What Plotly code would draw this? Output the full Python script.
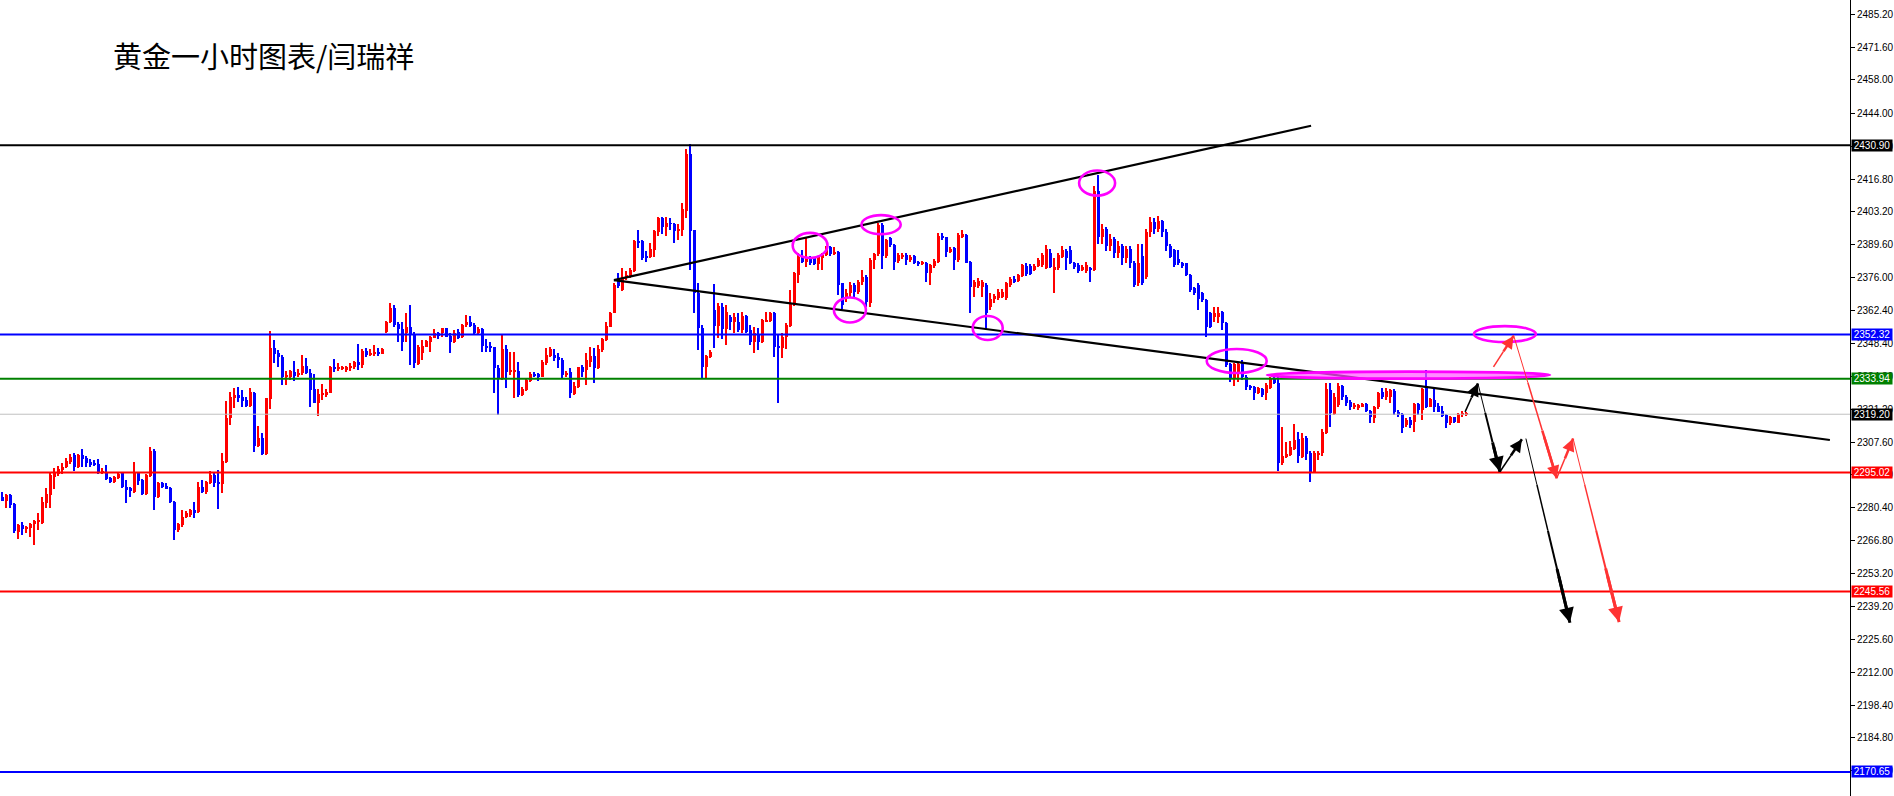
import plotly.graph_objects as go

# ---------------- data (hourly gold candles) ----------------
opens = [
2284.7,2283.3,2285.6,2281.9,2270.4,2273.2,2271.7,2271.8,2273.5,2274.6,
2274.2,2282.5,2285.6,2293.3,2294.4,2296.0,2297.1,2299.5,2302.3,2297.1,
2302.3,2300.9,2299.2,2299.0,2298.4,2294.9,2294.9,2292.6,2290.9,2292.6,
2294.6,2289.1,2288.4,2286.8,2294.6,2291.9,2286.1,2293.7,2303.9,2284.7,
2290.8,2289.4,2288.7,2282.9,2271.1,2273.2,2276.4,2277.4,2279.4,2278.7,
2289.1,2287.0,2290.5,2293.9,2291.2,2290.2,2299.5,2317.5,2325.8,2327.2,
2326.5,2325.1,2322.6,2328.2,2306.0,2309.5,2302.7,2325.5,2346.6,2344.8,
2342.8,2334.8,2334.8,2336.7,2335.9,2336.2,2339.2,2336.5,2329.5,2324.0,
2327.2,2327.2,2328.2,2338.9,2338.3,2338.0,2337.6,2338.3,2338.9,2341.0,
2339.6,2345.6,2343.8,2344.1,2345.2,2344.2,2353.5,2357.4,2363.2,2356.7,
2354.5,2352.8,2355.6,2352.5,2340.0,2344.8,2347.3,2349.3,2351.0,2352.8,
2352.8,2354.9,2351.7,2349.3,2353.5,2351.1,2356.3,2357.6,2356.3,2352.8,
2354.5,2347.7,2347.5,2347.0,2338.3,2334.1,2346.1,2336.9,2336.9,2337.3,
2327.2,2329.3,2333.1,2335.9,2335.9,2334.8,2340.3,2343.4,2343.8,2343.1,
2341.7,2335.5,2336.9,2327.6,2330.6,2339.0,2337.6,2341.0,2343.4,2338.3,
2345.9,2350.0,2355.6,2361.4,2374.9,2370.8,2375.6,2376.3,2378.8,2391.3,
2391.3,2384.6,2384.4,2387.4,2395.0,2400.6,2396.8,2398.5,2398.2,2395.4,
2395.7,2403.7,2427.3,2395.7,2369.4,2354.9,2338.7,2343.1,2362.5,2355.8,
2363.9,2354.6,2359.7,2357.6,2357.6,2354.2,2360.0,2354.2,2349.3,2352.1,
2349.3,2357.9,2358.1,2361.4,2347.5,2346.6,2351.1,2355.8,2364.6,2377.0,
2384.6,2382.6,2384.5,2383.9,2381.6,2384.0,2385.5,2388.5,2385.7,2386.7,
2373.5,2367.3,2369.4,2372.8,2370.1,2374.2,2376.3,2365.2,2383.2,2385.7,
2397.8,2384.9,2392.2,2389.4,2382.9,2384.6,2385.3,2383.2,2384.9,2382.5,
2381.8,2382.1,2377.7,2380.8,2382.5,2393.2,2392.8,2386.7,2388.1,2383.2,
2393.2,2393.6,2382.5,2372.1,2372.5,2372.1,2372.8,2363.9,2366.9,2367.4,
2368.0,2367.4,2372.9,2375.3,2374.7,2376.6,2380.8,2380.8,2379.1,2380.8,
2381.0,2379.8,2386.0,2379.1,2379.8,2384.6,2387.0,2387.4,2381.9,2381.2,
2379.1,2378.8,2379.8,2379.1,2412.0,2393.0,2396.0,2389.0,2392.0,2386.0,
2389.0,2384.0,2388.0,2382.0,2373.5,2385.0,2376.0,2395.0,2399.0,2396.0,
2399.5,2395.0,2389.0,2387.4,2383.5,2381.9,2381.9,2377.0,2371.5,2372.9,
2369.4,2366.6,2361.1,2359.7,2359.7,2361.8,2357.2,2339.9,2334.1,2336.2,
2339.9,2334.8,2330.9,2330.6,2327.9,2329.5,2327.9,2330.2,2334.1,2332.3,
2298.8,2301.3,2302.3,2304.7,2308.8,2301.6,2309.2,2303.3,2295.3,2302.3,
2303.0,2311.5,2329.3,2319.5,2323.0,2330.9,2326.5,2324.4,2322.1,2321.7,
2322.3,2323.4,2320.7,2317.5,2322.1,2328.6,2326.5,2326.5,2329.0,2320.3,
2319.3,2314.9,2316.8,2316.1,2323.4,2321.0,2330.6,2322.3,2325.1,2322.6,
2320.5,2318.9,2315.4,2317.9,2315.7,2318.9,2318.9]

highs = [
2286.8,2286.0,2286.0,2282.2,2273.5,2274.3,2272.9,2274.2,2275.2,2278.0,
2284.7,2288.4,2295.4,2296.7,2297.8,2298.8,2300.9,2302.7,2303.0,2302.5,
2304.8,2301.9,2300.5,2300.2,2300.5,2296.7,2298.0,2293.0,2293.7,2295.0,
2294.9,2291.9,2288.8,2299.2,2295.4,2292.3,2294.4,2305.7,2304.6,2291.2,
2291.2,2290.5,2289.1,2283.2,2274.2,2279.4,2279.2,2279.7,2282.9,2291.2,
2291.9,2291.5,2295.8,2294.6,2296.0,2303.3,2324.8,2328.6,2330.0,2330.4,
2329.2,2326.5,2330.0,2328.6,2314.3,2311.5,2326.1,2353.8,2350.0,2345.9,
2343.8,2337.3,2337.6,2341.4,2338.0,2343.8,2342.4,2337.9,2335.9,2329.5,
2331.8,2329.5,2339.2,2342.0,2340.3,2339.4,2339.2,2340.6,2341.3,2348.4,
2346.2,2346.6,2346.2,2348.0,2346.9,2346.6,2358.1,2365.3,2364.6,2357.6,
2357.6,2361.1,2364.6,2353.5,2348.0,2350.0,2350.0,2351.7,2354.5,2353.5,
2355.2,2355.2,2352.8,2354.2,2354.5,2356.7,2360.4,2360.0,2357.0,2355.6,
2354.9,2350.3,2349.3,2347.3,2339.6,2352.1,2347.9,2345.2,2345.2,2341.0,
2330.6,2334.1,2336.9,2336.9,2336.5,2341.7,2346.6,2347.0,2346.1,2344.5,
2342.4,2337.3,2338.3,2332.7,2339.0,2339.6,2344.5,2347.3,2346.6,2347.9,
2350.7,2357.6,2361.8,2373.6,2377.7,2379.8,2378.8,2379.8,2391.6,2395.7,
2391.6,2387.1,2390.2,2395.7,2401.2,2401.2,2401.0,2400.6,2398.5,2398.2,
2406.8,2429.2,2431.3,2395.9,2373.6,2356.3,2344.0,2346.0,2373.1,2365.3,
2365.3,2364.6,2360.4,2361.1,2361.1,2361.8,2360.4,2356.3,2355.6,2354.9,
2358.6,2361.8,2361.8,2361.8,2352.1,2352.8,2357.0,2370.8,2378.4,2386.0,
2387.4,2392.2,2384.9,2384.2,2385.0,2386.0,2389.0,2389.0,2388.5,2387.0,
2373.8,2371.0,2374.0,2373.5,2375.0,2379.0,2377.0,2384.0,2386.0,2398.5,
2398.5,2392.0,2393.0,2390.0,2386.0,2386.0,2386.0,2385.5,2385.5,2383.0,
2383.0,2382.5,2381.5,2383.5,2394.5,2394.3,2393.0,2388.5,2388.5,2394.5,
2395.7,2394.0,2383.0,2375.0,2375.6,2375.0,2373.5,2369.4,2369.0,2371.3,
2371.0,2374.0,2376.0,2376.5,2377.5,2381.6,2382.0,2381.5,2381.5,2384.0,
2386.0,2389.5,2388.0,2384.0,2386.0,2389.0,2388.0,2389.0,2382.5,2382.0,
2381.2,2382.5,2380.5,2414.0,2418.5,2398.0,2397.0,2394.0,2393.0,2391.0,
2390.0,2389.0,2389.0,2383.0,2390.0,2390.0,2396.0,2401.0,2400.5,2401.5,
2400.0,2396.0,2390.0,2388.0,2387.5,2382.5,2382.2,2377.5,2372.0,2373.6,
2370.0,2367.0,2361.5,2363.9,2363.6,2362.2,2357.6,2340.3,2340.5,2341.0,
2341.7,2335.5,2331.5,2331.0,2330.6,2330.0,2332.0,2334.8,2334.8,2334.8,
2314.0,2307.8,2308.0,2315.1,2312.0,2311.5,2310.0,2304.0,2304.0,2304.0,
2313.0,2332.0,2332.0,2328.0,2332.0,2331.5,2327.0,2325.0,2323.7,2323.5,
2324.0,2324.0,2321.0,2322.5,2328.5,2330.0,2330.0,2329.8,2329.5,2321.0,
2319.8,2317.5,2318.0,2324.0,2324.0,2330.0,2337.6,2326.0,2329.5,2324.0,
2322.6,2319.2,2318.5,2318.2,2319.6,2320.5,2320.2]

lows = [
2283.0,2280.4,2280.4,2270.0,2267.2,2269.0,2269.7,2268.4,2264.9,2271.1,
2273.6,2280.1,2280.1,2288.0,2293.7,2294.4,2296.7,2298.5,2295.6,2296.7,
2297.4,2297.4,2297.4,2297.8,2294.4,2294.4,2291.9,2290.8,2290.5,2292.3,
2288.4,2282.5,2284.7,2286.4,2289.8,2285.8,2285.6,2293.3,2279.4,2284.3,
2288.4,2288.0,2282.2,2267.0,2270.4,2272.5,2276.0,2276.7,2276.0,2278.3,
2286.4,2285.9,2290.2,2289.1,2279.7,2286.4,2298.8,2314.7,2321.6,2324.4,
2322.3,2322.3,2322.3,2303.6,2305.7,2302.3,2302.3,2321.4,2340.3,2338.9,
2331.3,2331.3,2333.4,2333.0,2334.5,2335.5,2335.9,2322.3,2323.7,2318.6,
2325.1,2326.5,2327.9,2336.9,2337.3,2337.6,2336.6,2337.3,2338.0,2337.6,
2338.3,2343.1,2343.5,2343.5,2343.4,2344.1,2352.8,2356.9,2355.6,2349.3,
2345.6,2349.3,2339.6,2338.3,2339.6,2341.7,2347.0,2345.2,2350.7,2350.3,
2351.4,2351.1,2344.5,2348.9,2350.4,2350.7,2355.6,2355.6,2352.5,2352.5,
2344.9,2345.2,2345.2,2327.9,2318.9,2333.4,2329.9,2335.5,2325.8,2326.5,
2326.9,2329.0,2332.7,2334.5,2333.1,2334.5,2339.6,2342.8,2341.4,2338.3,
2333.7,2334.8,2325.8,2327.2,2330.3,2334.8,2331.3,2338.7,2332.0,2338.0,
2345.2,2349.7,2355.3,2361.1,2371.5,2370.5,2374.9,2375.6,2378.4,2388.1,
2383.3,2382.6,2383.9,2384.6,2393.2,2394.1,2393.4,2395.7,2390.5,2391.6,
2393.2,2400.6,2379.1,2361.1,2345.9,2334.1,2333.7,2342.5,2346.6,2350.7,
2350.3,2347.9,2354.2,2352.8,2353.5,2352.8,2352.8,2347.9,2344.5,2345.9,
2348.6,2357.6,2357.6,2343.1,2323.7,2342.4,2346.1,2355.6,2364.2,2373.8,
2381.9,2380.4,2381.0,2381.0,2379.1,2379.1,2385.0,2385.0,2385.3,2368.7,
2363.1,2366.0,2368.0,2368.0,2369.0,2373.0,2363.8,2363.8,2379.4,2385.0,
2379.4,2383.9,2388.5,2379.1,2382.0,2383.5,2381.1,2382.5,2381.5,2380.7,
2381.0,2374.2,2372.8,2380.0,2382.0,2391.5,2384.6,2386.0,2379.1,2382.5,
2392.5,2381.8,2361.1,2368.0,2371.5,2368.0,2354.6,2362.5,2365.5,2366.6,
2367.5,2366.6,2372.0,2373.5,2374.0,2376.0,2376.8,2377.0,2378.5,2380.3,
2380.5,2379.5,2379.8,2369.4,2379.0,2384.0,2379.1,2381.5,2379.5,2378.0,
2378.5,2378.0,2374.0,2378.5,2390.0,2390.0,2387.0,2387.0,2384.0,2384.0,
2381.0,2382.0,2380.0,2372.0,2372.5,2372.8,2375.5,2393.0,2394.0,2395.0,
2393.0,2387.0,2384.0,2380.5,2381.0,2380.0,2376.6,2370.0,2368.7,2362.5,
2365.8,2351.4,2355.0,2357.6,2357.0,2354.2,2339.0,2332.7,2330.9,2332.7,
2333.5,2329.3,2329.3,2325.1,2327.5,2326.5,2325.1,2329.8,2331.8,2295.8,
2298.1,2300.9,2302.0,2304.3,2298.8,2301.0,2300.0,2291.2,2295.0,2300.0,
2302.0,2311.0,2314.0,2319.0,2322.0,2325.0,2322.5,2321.0,2321.5,2321.0,
2322.0,2320.0,2315.7,2315.7,2321.5,2325.5,2325.0,2324.0,2319.0,2318.0,
2311.5,2314.0,2313.5,2312.0,2319.0,2316.8,2321.6,2322.0,2320.3,2320.0,
2318.2,2313.3,2314.6,2315.5,2315.4,2318.2,2318.6]

closes = [
2283.3,2285.6,2281.5,2270.8,2273.1,2271.4,2272.2,2273.6,2274.9,2275.0,
2282.9,2286.1,2293.9,2295.4,2296.5,2297.1,2299.8,2301.6,2297.1,2302.3,
2300.6,2298.8,2298.5,2298.4,2294.9,2295.4,2292.3,2291.2,2293.3,2294.4,
2288.8,2287.7,2287.5,2295.2,2291.6,2286.1,2293.9,2303.9,2284.7,2290.8,
2289.1,2288.3,2282.9,2271.1,2273.6,2276.7,2278.0,2279.4,2278.0,2289.1,
2287.0,2291.2,2293.9,2290.5,2290.2,2299.8,2317.5,2326.2,2327.2,2325.8,
2324.8,2322.6,2328.6,2306.0,2309.5,2302.5,2325.8,2346.6,2344.2,2342.8,
2334.8,2335.5,2337.2,2335.1,2336.5,2339.2,2336.2,2329.2,2324.0,2327.5,
2327.9,2328.4,2338.9,2338.0,2338.9,2338.9,2338.9,2339.2,2341.0,2339.6,
2345.6,2343.8,2344.5,2345.2,2344.1,2346.2,2357.4,2363.2,2356.3,2354.5,
2349.3,2355.6,2352.0,2340.3,2347.3,2347.5,2349.6,2351.4,2352.8,2351.7,
2354.9,2351.4,2349.3,2352.8,2351.0,2356.3,2357.6,2355.8,2352.8,2354.5,
2347.7,2347.0,2346.6,2338.3,2334.1,2346.3,2336.9,2337.3,2337.6,2327.2,
2329.5,2333.4,2335.9,2335.1,2334.8,2341.0,2343.8,2346.1,2342.4,2341.7,
2335.5,2336.5,2327.9,2330.9,2338.7,2336.9,2341.7,2343.4,2338.3,2346.1,
2350.3,2355.8,2361.4,2372.9,2372.4,2375.6,2377.0,2379.1,2391.3,2390.2,
2383.9,2384.4,2387.8,2395.3,2400.6,2396.8,2398.5,2398.2,2395.4,2396.1,
2404.4,2427.3,2395.4,2369.4,2354.9,2338.7,2343.4,2345.2,2355.8,2364.2,
2354.6,2361.8,2357.6,2359.7,2354.2,2360.0,2353.5,2349.3,2352.8,2349.3,
2358.3,2358.3,2361.4,2347.3,2346.6,2351.1,2356.3,2365.3,2377.7,2384.6,
2382.6,2384.5,2382.0,2381.6,2384.6,2385.5,2388.1,2385.7,2386.7,2372.8,
2364.5,2369.4,2372.8,2370.1,2374.2,2376.3,2366.0,2383.2,2385.7,2397.8,
2384.9,2391.5,2389.4,2382.5,2385.3,2385.3,2383.2,2384.6,2382.1,2381.8,
2382.5,2377.7,2381.1,2382.8,2393.2,2392.2,2386.7,2387.7,2383.2,2393.6,
2393.9,2382.1,2372.1,2374.2,2374.6,2374.2,2361.1,2366.9,2368.3,2370.1,
2370.1,2373.6,2375.3,2374.0,2377.0,2381.2,2377.4,2377.4,2380.8,2383.2,
2385.3,2387.8,2380.5,2380.5,2385.3,2387.4,2383.9,2382.0,2380.2,2378.8,
2380.5,2381.2,2379.3,2412.0,2393.0,2396.0,2389.0,2392.0,2386.0,2389.0,
2384.0,2388.0,2382.0,2373.0,2381.9,2373.6,2395.0,2399.0,2396.0,2399.5,
2395.0,2389.0,2384.6,2381.2,2381.9,2380.8,2377.0,2370.8,2369.4,2366.9,
2366.6,2355.6,2355.6,2361.1,2361.1,2357.0,2339.6,2334.1,2339.9,2339.9,
2334.8,2330.6,2329.9,2327.9,2330.2,2327.2,2331.3,2334.1,2332.3,2298.8,
2301.9,2302.7,2305.7,2308.5,2301.9,2309.2,2302.7,2295.3,2303.3,2303.3,
2312.0,2329.5,2319.8,2326.5,2330.9,2326.5,2323.7,2322.1,2323.0,2323.0,
2323.3,2320.7,2318.2,2322.1,2327.9,2326.5,2329.0,2329.3,2320.3,2318.9,
2313.3,2316.8,2314.9,2323.4,2321.0,2329.5,2322.3,2325.4,2322.3,2320.3,
2318.5,2315.4,2318.2,2316.1,2319.3,2319.6,2319.2]

# horizontal levels: (price, colour, width, label background)
levels = [2430.90, 2352.32, 2333.94, 2319.20, 2295.02, 2245.56, 2170.65]
level_colors = ["#000000", "#0000FF", "#008000", "#C0C0C0", "#FF0000", "#FF0000", "#0000FF"]
level_widths = [2, 2, 2, 1, 2, 2, 2]
label_bg = ["#000000", "#0000FF", "#008000", "#000000", "#FF0000", "#FF0000", "#0000FF"]

tick_values = [2485.20, 2471.60, 2458.00, 2444.00, 2430.40, 2416.80, 2403.20, 2389.60,
               2376.00, 2362.40, 2348.40, 2334.80, 2321.20, 2307.60, 2294.00, 2280.40,
               2266.80, 2253.20, 2239.20, 2225.60, 2212.00, 2198.40, 2184.80, 2171.20]

title_text = "黄金一小时图表/闫瑞祥"

# ---------------- figure ----------------
n = len(closes)
xs = list(range(n))
UP, DOWN = "#FF0000", "#0000FF"
col = [UP if c >= o else DOWN for o, c in zip(opens, closes)]

fig = go.Figure()
# wicks
fig.add_trace(go.Bar(x=xs, y=[h - l for h, l in zip(highs, lows)], base=lows,
                     width=0.27, marker=dict(color=col, line=dict(width=0)),
                     hoverinfo="skip"))
# bodies
fig.add_trace(go.Bar(x=xs, y=[max(abs(c - o), 0.4) for o, c in zip(opens, closes)],
                     base=[min(o, c) for o, c in zip(opens, closes)],
                     width=0.78, marker=dict(color=col, line=dict(width=0)),
                     hoverinfo="skip"))

shapes = []
for p, c, w in zip(levels, level_colors, level_widths):
    shapes.append(dict(type="line", xref="paper", yref="y", x0=0, x1=1, y0=p, y1=p,
                       line=dict(color=c, width=w), layer="above"))

# trend lines (x in candle index, y in price)
shapes.append(dict(type="line", xref="x", yref="y", x0=152.9, y0=2374.9, x1=327.2, y1=2439.0,
                   line=dict(color="black", width=2.2)))
shapes.append(dict(type="line", xref="x", yref="y", x0=152.9, y0=2374.9, x1=456.9, y1=2308.5,
                   line=dict(color="black", width=2.2)))

# magenta ellipses: (x0, x1, y0, y1)
ellipses = [(197.6, 206.3, 2384.1, 2394.5), (214.8, 224.6, 2394.0, 2401.9),
            (207.9, 215.9, 2357.3, 2367.7), (242.6, 250.1, 2350.0, 2360.0),
            (269.2, 278.2, 2410.0, 2420.4), (301.1, 316.1, 2336.3, 2346.3),
            (367.9, 383.4, 2349.2, 2355.8)]
for x0, x1, y0, y1 in ellipses:
    shapes.append(dict(type="circle", xref="x", yref="y", x0=x0, x1=x1, y0=y0, y1=y1,
                       line=dict(color="#FF00FF", width=2.6)))
shapes.append(dict(type="circle", xref="x", yref="y", x0=316.2, x1=386.9, y0=2334.0, y1=2336.9,
                   line=dict(color="#FF00FF", width=2.8), fillcolor="rgba(255,90,255,0.7)"))

annotations = []

def arrow(x0, y0, x1, y1, color, widths):
    k = len(widths)
    for j, w in enumerate(widths):
        a = j / k
        b = (j + 1) / k
        shapes.append(dict(type="line", xref="x", yref="y",
                           x0=x0 + (x1 - x0) * a, y0=y0 + (y1 - y0) * a,
                           x1=x0 + (x1 - x0) * b, y1=y0 + (y1 - y0) * b,
                           line=dict(color=color, width=w)))
    annotations.append(dict(x=x1, y=y1, ax=x0 + (x1 - x0) * 0.7, ay=y0 + (y1 - y0) * 0.7,
                            xref="x", yref="y", axref="x", ayref="y", text="",
                            showarrow=True, arrowhead=2, arrowsize=1.0,
                            arrowwidth=max(widths), arrowcolor=color, standoff=0))

# black path
arrow(365.7, 2320.2, 368.9, 2332.0, "black", [1.5, 2.5])
arrow(368.9, 2332.0, 374.4, 2295.3, "black", [1, 2, 3])
arrow(374.4, 2295.3, 379.9, 2308.8, "black", [1.5, 2.5])
arrow(380.9, 2309.1, 391.9, 2232.6, "black", [1, 1.5, 2, 3])
# red path
arrow(372.8, 2338.9, 377.8, 2351.7, "#FF3333", [1.5, 2.5])
arrow(377.8, 2352.1, 388.6, 2292.6, "#FF3333", [1, 1.5, 2.5])
arrow(388.6, 2292.6, 392.7, 2309.1, "#FF3333", [1.5, 2.5])
arrow(392.7, 2309.1, 404.2, 2232.9, "#FF3333", [1, 1.5, 2, 3])

# price labels on the axis
for p, bg in zip(levels, label_bg):
    annotations.append(dict(x=1, y=p, xref="paper", yref="y", xanchor="left", yanchor="middle",
                            xshift=1, text=f"{p:.2f}", showarrow=False, bgcolor=bg,
                            width=40, height=11, borderpad=0,
                            font=dict(family="Liberation Sans", size=10, color="white")))

annotations.append(dict(x=111 / 1850, y=1 - 55 / 796, xref="paper", yref="paper",
                        xanchor="left", yanchor="middle", text=title_text, showarrow=False,
                        font=dict(family="Noto Sans CJK SC", size=29, color="black")))

fig.update_layout(
    width=1894, height=796, autosize=False,
    margin=dict(l=0, r=44, t=0, b=0),
    paper_bgcolor="white", plot_bgcolor="white",
    showlegend=False, barmode="overlay", bargap=0,
    shapes=shapes, annotations=annotations,
    xaxis=dict(range=[-0.575, 461.925], visible=False, fixedrange=True),
    yaxis=dict(range=[2160.66, 2491.22], side="right", showgrid=False, zeroline=False,
               showline=True, linecolor="black", linewidth=1, ticks="outside", ticklen=4,
               tickcolor="black", tickvals=tick_values,
               ticktext=[f"{v:.2f}" for v in tick_values],
               tickfont=dict(family="Liberation Sans", size=10, color="black")),
)

fig.write_html("out.html", config={"displayModeBar": False},
               post_script="document.body.style.margin='0';document.body.style.overflow='hidden';")
